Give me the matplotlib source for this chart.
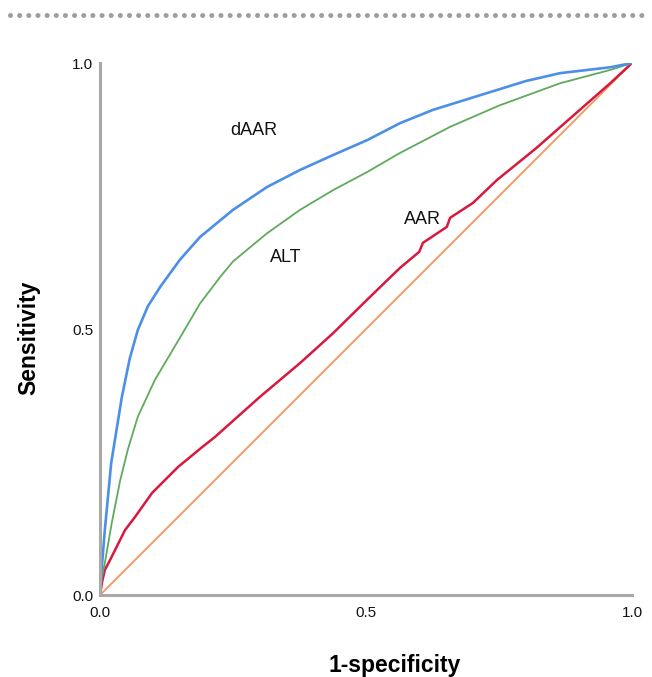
import matplotlib.pyplot as plt
from matplotlib.lines import Line2D

plt.rcParams['font.family'] = ['Liberation Sans', 'DejaVu Sans']

# dAAR curve
daar_x = [0, 0.002, 0.004, 0.009, 0.021, 0.041, 0.056, 0.071, 0.09, 0.113, 0.15, 0.188,
          0.25, 0.314, 0.376, 0.438, 0.502, 0.564, 0.626, 0.7, 0.8, 0.865, 0.959, 1.0]
daar_y = [0, 0.03, 0.06, 0.122, 0.248, 0.372, 0.445, 0.498, 0.543, 0.579, 0.63, 0.673,
          0.724, 0.767, 0.799, 0.827, 0.855, 0.887, 0.912, 0.935, 0.966, 0.981, 0.992, 1.0]

# ALT curve
alt_x = [0, 0.003, 0.009, 0.022, 0.038, 0.053, 0.071, 0.103, 0.154, 0.188, 0.226, 0.25,
         0.314, 0.376, 0.438, 0.502, 0.564, 0.658, 0.75, 0.865, 0.959, 1.0]
alt_y = [0, 0.03, 0.06, 0.135, 0.216, 0.276, 0.335, 0.404, 0.49, 0.548, 0.598, 0.627,
         0.68, 0.724, 0.761, 0.795, 0.831, 0.88, 0.92, 0.962, 0.987, 1.0]

# AAR curve
aar_x = [0, 0.004, 0.009, 0.019, 0.047, 0.066, 0.098, 0.147, 0.192, 0.216, 0.3, 0.376,
         0.438, 0.502, 0.564, 0.6, 0.607, 0.652, 0.658, 0.701, 0.746, 0.82, 0.902,
         0.959, 1.0]
aar_y = [0, 0.025, 0.047, 0.066, 0.122, 0.147, 0.192, 0.241, 0.278, 0.297, 0.372, 0.436,
         0.492, 0.555, 0.615, 0.645, 0.662, 0.692, 0.709, 0.737, 0.78, 0.84, 0.912,
         0.962, 1.0]

ref_x = [0, 1]
ref_y = [0, 1]

labels = ['dAAR', 'ALT', 'AAR']
label_pos = [(0.29, 0.874), (0.35, 0.635), (0.607, 0.705)]

fig = plt.figure(figsize=(6.52, 6.77), dpi=100)
ax = fig.add_axes([0.1534, 0.1211, 0.8159, 0.7858])

ax.plot(ref_x, ref_y, color='#F4965C', lw=1.3)
ax.plot(aar_x, aar_y, color='#D7193E', lw=1.8)
ax.plot(alt_x, alt_y, color='#5FAA5C', lw=1.3)
ax.plot(daar_x, daar_y, color='#4C8FE6', lw=1.9)

for lab, (lx, ly) in zip(labels, label_pos):
    ax.text(lx, ly, lab, fontsize=13, ha='center', va='center', color='#111111')

ax.set_xlim(0, 1)
ax.set_ylim(0, 1)
ax.set_xticks([0, 0.5, 1.0])
ax.set_yticks([0, 0.5, 1.0])
ax.set_xticklabels(['0.0', '0.5', '1.0'])
ax.set_yticklabels(['0.0', '0.5', '1.0'])
ax.tick_params(length=0, labelsize=11, colors='#111111')
ax.tick_params(axis='x', pad=8)
ax.tick_params(axis='y', pad=5)
for side in ['top', 'right']:
    ax.spines[side].set_visible(False)
for side in ['left', 'bottom']:
    ax.spines[side].set_color('#A9A9A9')
    ax.spines[side].set_linewidth(2.2)

ax.set_xlabel('1-specificity', fontsize=16.5, fontweight='bold')
ax.set_ylabel('Sensitivity', fontsize=16.5, fontweight='bold')
ax.xaxis.set_label_coords(0.553, -0.111)
ax.yaxis.set_label_coords(-0.113, 0.483)

# dotted separator at the top
fig.add_artist(Line2D([0.015, 0.99], [0.978, 0.978], transform=fig.transFigure,
                      color='#9E9E9E', lw=3.6, linestyle=(0, (0.01, 1.82)),
                      dash_capstyle='round'))

fig.savefig('out.png', dpi=100)
